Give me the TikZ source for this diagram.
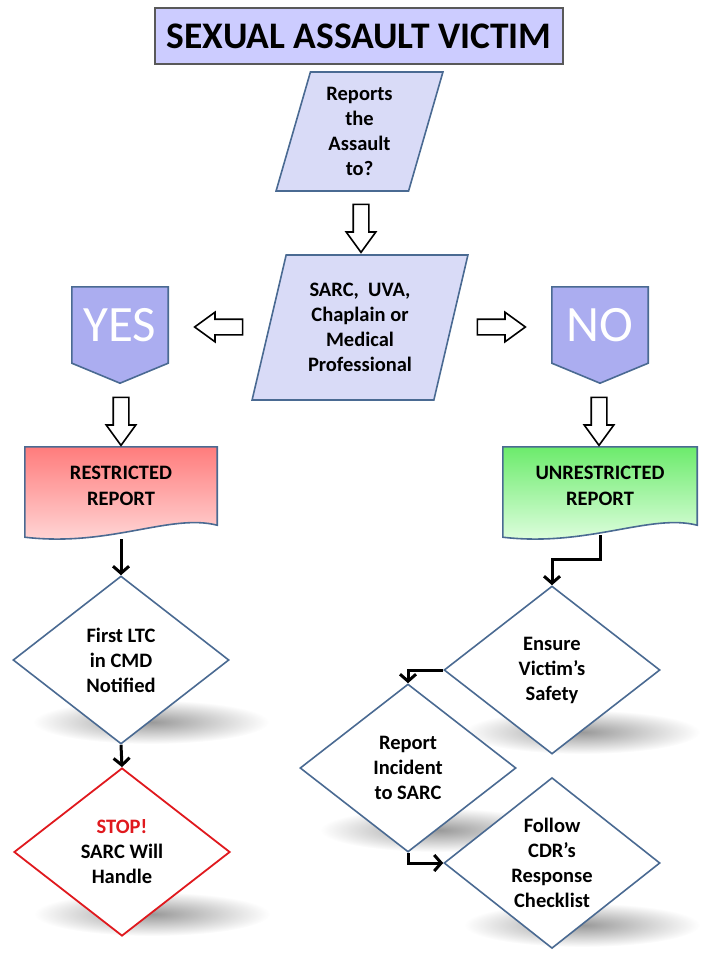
\documentclass[tikz,border=0pt]{standalone}
\usepackage{fontspec}
\setmainfont{Carlito}
\usetikzlibrary{shapes.geometric,shapes.arrows,arrows.meta,calc,backgrounds}
\definecolor{linecol}{HTML}{4A6A92}
\definecolor{titlefill}{HTML}{CCCCFF}
\definecolor{parafill}{HTML}{D9DBF7}
\definecolor{tagfill}{HTML}{ABADF0}
\definecolor{redtop}{HTML}{FF7C7C}
\definecolor{redbot}{HTML}{FFDCDC}
\definecolor{greentop}{HTML}{6CEB6C}
\definecolor{greenbot}{HTML}{E6FFE6}
\definecolor{stopred}{HTML}{E0191E}
\tikzset{
  txt/.style={font=\bfseries\fontsize{20.5}{25}\selectfont, align=center},
  para/.style={txt, trapezium, trapezium left angle=75, trapezium right angle=105,
    trapezium stretches=true, draw=linecol, fill=parafill, line width=1.6pt},
  tag/.style={minimum width=96pt, minimum height=76pt, text=white,
    font=\fontsize{51}{52}\selectfont},
  doc/.style={txt, font=\bfseries\fontsize{20.5}{26}\selectfont, minimum height=78pt},
  decision/.style={txt, diamond, draw=linecol, fill=white, line width=1.6pt,
    minimum width=216pt, minimum height=168pt, inner sep=0pt},
  hollow/.style={single arrow, draw=black, fill=white, line width=1.6pt,
    minimum height=48pt, inner sep=7pt, single arrow head extend=7pt,
    single arrow tip angle=72},
  conn/.style={line width=3pt, -{Straight Barb[length=7pt,width=16pt]}},
  shadowblob/.style={inner color=black!40, outer color=white},
}

\begin{document}
\begin{tikzpicture}[x=1pt, y=-1pt]
  \useasboundingbox (0,0) rectangle (720,960);
  % top of the chart
  \node[draw=black!65, fill=titlefill, line width=1.2pt, minimum width=408pt, minimum height=56pt,
    font=\bfseries\fontsize{37.5}{40}\selectfont] (title) at (359,36) {SEXUAL ASSAULT VICTIM};
  \node[para, minimum width=167pt, minimum height=119pt] (ask) at (359.5,131.5) {Reports\\the\\Assault\\to?};
  \node[para, minimum width=216pt, minimum height=145pt] (sarc) at (360,327.5) {SARC,~ UVA,\\Chaplain or\\Medical\\Professional};
  \node[hollow, shape border rotate=270] (a1) at (361,223) {};
  \node[hollow, shape border rotate=180] (a2) at (224,327) {};
  \node[hollow] (a3) at (496,327) {};
  % yes / no tags
  \node[tag] (yes) at (120,325) {YES};
  \node[tag] (no) at (600,325) {NO};
  \node[hollow, shape border rotate=270] (a4) at (121,416) {};
  \node[hollow, shape border rotate=270] (a5) at (599,416) {};
  % the two reports
  \node[doc, minimum width=192pt] (restr) at (121,486) {RESTRICTED\\REPORT};
  \node[doc, minimum width=194pt] (unres) at (600,486) {UNRESTRICTED\\REPORT};
  % decisions
  \node[decision] (ltc) at (121,660) {First LTC\\in CMD\\Notified};
  \node[decision, draw=stopred, line width=1.8pt] (stop) at (122,852) {\textcolor{stopred}{STOP!}\\SARC Will\\Handle};
  \node[decision] (ensure) at (552,670) {Ensure\\Victim’s\\Safety};
  \node[decision] (incid) at (408,768) {Report\\Incident\\to SARC};
  \node[decision] (follow) at (552,863) {Follow\\CDR’s\\Response\\Checklist};
  % connectors
  \draw[conn] ([yshift=-14pt]restr.south) -- (ltc.north);
  \draw[conn] (ltc.south) -- (stop.north);
  \draw[conn] ([yshift=-10pt]unres.south) -- ++(0,24) -| (ensure.north);
  \draw[conn] (ensure.west) -| (incid.north);
  \draw[conn] (incid.south) |- (follow.west);
  \begin{scope}[on background layer]
    \foreach \n in {ltc,stop,ensure,incid,follow}
      \shade[shadowblob] ($(\n)+(30,62)$) ellipse [x radius=118pt, y radius=22pt];
    \foreach \n in {yes,no}
      \filldraw[fill=tagfill, draw=linecol, line width=1.6pt] (\n.north west) -- (\n.north east)
        -- (\n.south east) -- ($(\n.south)+(0,20)$) -- (\n.south west) -- cycle;
    \shadedraw[top color=redtop, bottom color=redbot, draw=linecol, line width=1.6pt]
      (restr.north west) -- (restr.north east) -- (restr.south east)
      .. controls ($(restr.south east)+(-47,-12)$) and ($(restr.south west)+(85,22)$)
      .. ($(restr.south west)+(0,12)$) -- cycle;
    \shadedraw[top color=greentop, bottom color=greenbot, draw=linecol, line width=1.6pt]
      (unres.north west) -- (unres.north east) -- (unres.south east)
      .. controls ($(unres.south east)+(-47,-12)$) and ($(unres.south west)+(85,22)$)
      .. ($(unres.south west)+(0,12)$) -- cycle;
  \end{scope}
\end{tikzpicture}
\end{document}
